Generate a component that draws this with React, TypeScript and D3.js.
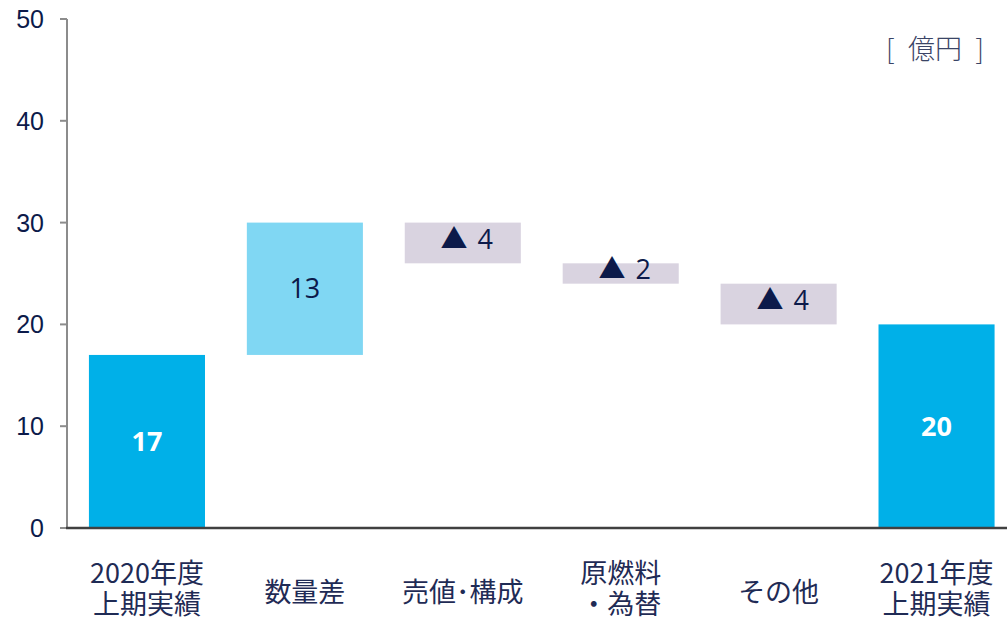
import * as d3 from "d3";

// 億円
const categories = [
  ["2020年度", "上期実績"],
  ["数量差"],
  ["売値･構成"],
  ["原燃料", "・為替"],
  ["その他"],
  ["2021年度", "上期実績"],
];
const values = [17, 13, -4, -2, -4, 20];
const isTotal = [true, false, false, false, false, true];
const yTicks = [0, 10, 20, 30, 40, 50];
const unitLabel = "[\u2002億円\u2002]";

const W = 1007;
const H = 622;
const NAVY = "#0c1a4a";
const TEXT = "#1f2b55";

const COLORS = {
  total: "#00b0e8",
  up: "#80d7f3",
  down: "#d9d3e0",
};

type Step = { key: number; lines: string[]; y0: number; y1: number; v: number; kind: "total" | "up" | "down" };

function buildSteps(): Step[] {
  let run = 0;
  return values.map((v, i) => {
    if (isTotal[i]) {
      run = v;
      return { key: i, lines: categories[i], y0: 0, y1: v, v, kind: "total" };
    }
    const start = run;
    run += v;
    return { key: i, lines: categories[i], y0: start, y1: run, v, kind: v >= 0 ? "up" : "down" };
  });
}

export default function App() {
  const steps = buildSteps();
  const axisX = 67;

  const x = d3
    .scaleBand<number>()
    .domain(steps.map((d) => d.key))
    .range([axisX + 1, 1015.5])
    .paddingInner(0.265)
    .paddingOuter(0.1325);

  const y = d3.scaleLinear().domain([0, 50]).range([528, 19]);

  return (
    <svg width={W} height={H} style={{ position: "absolute", left: 0, top: 0 }}>
      <rect width={W} height={H} fill="#fff" />

      {steps.map((d) => {
        const top = y(Math.max(d.y0, d.y1));
        const bot = y(Math.min(d.y0, d.y1));
        return (
          <rect
            key={"b" + d.key}
            x={x(d.key)}
            y={top}
            width={x.bandwidth()}
            height={bot - top}
            fill={COLORS[d.kind]}
          />
        );
      })}

      {/* value labels */}
      {steps.map((d) => {
        const cx = (x(d.key) ?? 0) + x.bandwidth() / 2;
        const cy = y((d.y0 + d.y1) / 2);
        if (d.v < 0) {
          return (
            <text key={"v" + d.key} x={cx + 4} y={cy} dy="0.36em" textAnchor="middle" fill={NAVY}>
              <tspan fontFamily="'Noto Sans CJK JP', sans-serif" fontSize={27}>
                ▲
              </tspan>
              <tspan fontFamily="'Open Sans', sans-serif" fontSize={27} dx={10}>
                {Math.abs(d.v)}
              </tspan>
            </text>
          );
        }
        return (
          <text
            key={"v" + d.key}
            x={cx}
            y={cy}
            dy="0.36em"
            textAnchor="middle"
            fontFamily="'Open Sans', sans-serif"
            fontSize={27}
            fontWeight={d.kind === "total" ? 700 : 400}
            fill={d.kind === "total" ? "#fff" : NAVY}
          >
            {d.v}
          </text>
        );
      })}

      {/* y axis */}
      <line x1={axisX} x2={axisX} y1={y(50)} y2={y(0)} stroke="#8c8c8c" strokeWidth={2} />
      {yTicks.map((t) => (
        <g key={"t" + t}>
          <line x1={60} x2={axisX} y1={y(t)} y2={y(t)} stroke="#8c8c8c" strokeWidth={2} />
          <text
            x={44}
            y={y(t)}
            dy="0.36em"
            textAnchor="end"
            fontFamily="'Liberation Sans', Arial, sans-serif"
            fontSize={25}
            fill={NAVY}
          >
            {t}
          </text>
        </g>
      ))}

      {/* x axis */}
      <line x1={axisX - 1} x2={W} y1={y(0)} y2={y(0)} stroke="#404040" strokeWidth={2.5} />

      {/* category labels */}
      {steps.map((d) => {
        const cx = (x(d.key) ?? 0) + x.bandwidth() / 2;
        const baseY = d.lines.length === 1 ? 592 : 573;
        return (
          <text
            key={"c" + d.key}
            textAnchor="middle"
            fontFamily="'Noto Sans CJK JP', sans-serif"
            fontSize={27}
            fill={TEXT}
          >
            {d.lines.map((ln, j) => (
              <tspan key={j} x={cx} y={baseY + j * 31} dy="0.36em">
                {ln}
              </tspan>
            ))}
          </text>
        );
      })}

      <text
        x={935}
        y={49}
        dy="0.36em"
        textAnchor="middle"
        fontFamily="'Noto Sans CJK JP', sans-serif"
        fontSize={27}
        fontWeight={300}
        fill="#3a4466"
      >
        {unitLabel}
      </text>
    </svg>
  );
}
